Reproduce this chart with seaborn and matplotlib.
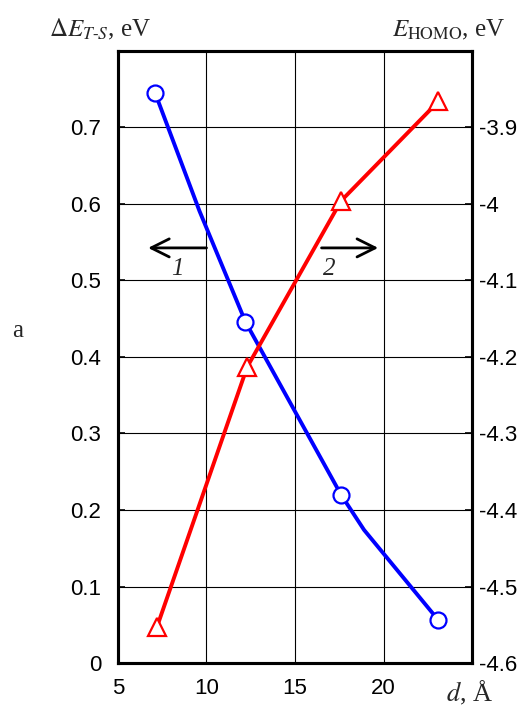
import matplotlib
matplotlib.use("Agg")
import matplotlib.pyplot as plt
import seaborn as sns
import pandas as pd

# Measured points (distance d in Å)
d_gap = [7.1, 12.2, 17.6, 23.1]
gap = [0.745, 0.446, 0.220, 0.056]          # ΔE(T-S), eV
d_homo = [7.2, 12.3, 17.6, 23.1]
homo = [-4.553, -4.213, -3.996, -3.866]     # E(HOMO), eV

# Vertices of the drawn ΔE curve
curve_d = [7.1, 9.6, 12.2, 17.6, 18.9, 23.1]
curve_gap = [0.745, 0.591, 0.446, 0.220, 0.174, 0.056]

x_ticks = [5, 10, 15, 20]
left_ticks = [0, 0.1, 0.2, 0.3, 0.4, 0.5, 0.6, 0.7]
left_labels = ["0", "0.1", "0.2", "0.3", "0.4", "0.5", "0.6", "0.7"]
right_ticks = [-4.6, -4.5, -4.4, -4.3, -4.2, -4.1, -4.0, -3.9]
right_labels = ["-4.6", "-4.5", "-4.4", "-4.3", "-4.2", "-4.1", "-4", "-3.9"]

sns.set_style("white")
plt.rcParams["mathtext.fontset"] = "stix"
plt.rcParams["font.family"] = ["Liberation Sans", "DejaVu Sans"]

fig = plt.figure(figsize=(5.23, 7.11), dpi=100)
ax = fig.add_axes([0.2256, 0.0675, 0.6769, 0.8608])
ax2 = ax.twinx()

curve_df = pd.DataFrame({"d": curve_d, "gap": curve_gap})
gap_df = pd.DataFrame({"d": d_gap, "gap": gap})
homo_df = pd.DataFrame({"d": d_homo, "homo": homo})

sns.lineplot(data=curve_df, x="d", y="gap", sort=False, ax=ax,
             color="#0000ff", linewidth=2.8, zorder=3)
ax.plot(gap_df["d"], gap_df["gap"], linestyle="none", marker="o",
        markersize=11.5, markerfacecolor="white", markeredgecolor="#0000ff",
        markeredgewidth=1.6, zorder=4)

sns.lineplot(data=homo_df, x="d", y="homo", sort=False, ax=ax2,
             color="#ff0000", linewidth=2.8, zorder=3)
ax2.plot(homo_df["d"], homo_df["homo"], linestyle="none", marker="^",
         markersize=13, markerfacecolor="white", markeredgecolor="#ff0000",
         markeredgewidth=1.6, zorder=4)

ax.set_xlim(5, 25)
ax.set_ylim(0, 0.8)
ax2.set_ylim(-4.6, -3.8)

ax.set_xticks(x_ticks)
ax.set_xticklabels([str(t) for t in x_ticks])
ax.set_yticks(left_ticks)
ax.set_yticklabels(left_labels)
ax2.set_yticks(right_ticks)
ax2.set_yticklabels(right_labels)

ax.set_xlabel("")
ax.set_ylabel("")
ax2.set_ylabel("")

ax.grid(True, color="black", linewidth=0.8)
ax.set_axisbelow(True)
ax2.grid(False)

ax.tick_params(axis="both", direction="in", length=5, width=1.2,
               labelsize=16, colors="black")
ax.tick_params(axis="x", pad=11)
ax.tick_params(axis="y", pad=12)
ax2.tick_params(axis="y", direction="in", length=5, width=1.2,
                labelsize=16, pad=5, colors="black")

for a in (ax, ax2):
    for s in a.spines.values():
        s.set_visible(True)
        s.set_linewidth(2.2)
        s.set_color("black")

# direction arrows with curve numbers
arrow_kw = dict(arrowstyle="->,head_length=1.3,head_width=0.65",
                color="black", lw=2.0, shrinkA=0, shrinkB=0)
ax.annotate("", xy=(6.7, 0.5426), xytext=(10.0, 0.5426), arrowprops=arrow_kw)
ax.annotate("", xy=(19.7, 0.5426), xytext=(16.5, 0.5426), arrowprops=arrow_kw)
ax.text(8.35, 0.515, "1", fontsize=18, fontstyle="italic",
        family="Liberation Serif", ha="center", va="center")
ax.text(16.95, 0.515, "2", fontsize=18, fontstyle="italic",
        family="Liberation Serif", ha="center", va="center")

serif = ["Liberation Serif", "DejaVu Serif"]
fig.text(0.094, 0.958, r"$\Delta E_{T\text{-}S}$, eV", fontsize=18,
         family=serif, ha="left", va="center")
fig.text(0.966, 0.958, r"$E_{\mathrm{HOMO}}$, eV", fontsize=18,
         family=serif, ha="right", va="center")
fig.text(0.943, 0.006, r"$d$, Å", fontsize=19, family=serif,
         ha="right", va="bottom")
fig.text(0.034, 0.535, "a", fontsize=18, family=serif,
         ha="center", va="center")

fig.savefig("out.png", dpi=100)
